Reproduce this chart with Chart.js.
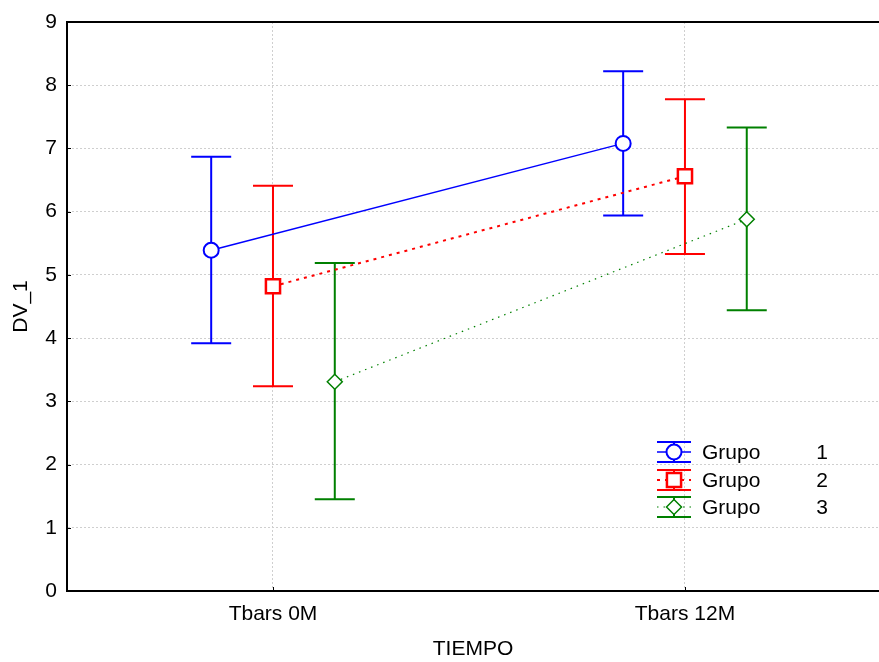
<!DOCTYPE html>
<html lang="es">
<head>
    <meta charset="UTF-8">
    <title>DV_1 por TIEMPO</title>
    <script src="https://cdn.jsdelivr.net/npm/chart.js"></script>
    <style>
        html, body { margin: 0; padding: 0; background: #fff; overflow: hidden; }
        .chart-box { width: 879px; height: 662px; }
    </style>
</head>
<body>
    <div class="chart-box">
        <canvas id="chart1"></canvas>
    </div>

    <script>
        // Data
        const categories = ["Tbars 0M", "Tbars 12M"];
        const groupNames = ["1", "2", "3"];
        const yTicks = [0, 1, 2, 3, 4, 5, 6, 7, 8, 9];

        const grupo1Mean = [5.39, 7.08];
        const grupo1Low = [3.92, 5.94];
        const grupo1High = [6.87, 8.22];

        const grupo2Mean = [4.82, 6.56];
        const grupo2Low = [3.24, 5.33];
        const grupo2High = [6.41, 7.78];

        const grupo3Mean = [3.31, 5.88];
        const grupo3Low = [1.45, 4.44];
        const grupo3High = [5.19, 7.33];

        const groupOffsets = [-0.15, 0, 0.15];

        const colors = ["rgb(0,0,255)", "rgb(255,0,0)", "rgb(0,128,0)"];
        const fontFamily = "'Liberation Sans', Arial, sans-serif";
        const fontSize = 21;

        const groupData = [
            { mean: grupo1Mean, low: grupo1Low, high: grupo1High },
            { mean: grupo2Mean, low: grupo2Low, high: grupo2High },
            { mean: grupo3Mean, low: grupo3Low, high: grupo3High }
        ];

        const pointStyles = ["circle", "rect", "rectRot"];
        const pointRadius = [7.5, 10, 7.5];
        const pointBorder = [2, 2.5, 1.5];
        const lineWidths = [1.5, 2, 1.2];
        const lineDashes = [[], [3, 5], [1.5, 5]];

        const datasets = groupData.map((g, i) => ({
            label: "Grupo " + groupNames[i],
            data: g.mean.map((m, c) => ({ x: c + groupOffsets[i], y: m })),
            borderColor: colors[i],
            backgroundColor: "#fff",
            borderWidth: lineWidths[i],
            borderDash: lineDashes[i],
            pointStyle: pointStyles[i],
            pointRadius: pointRadius[i],
            pointBorderWidth: pointBorder[i],
            pointBorderColor: colors[i],
            pointBackgroundColor: "#fff",
            tension: 0
        }));

        // error bars, frame, inward ticks and the legend box
        const extrasPlugin = {
            id: "extras",
            beforeDatasetsDraw(chart) {
                const ctx = chart.ctx;
                const xs = chart.scales.x, ys = chart.scales.y;
                const capHalf = 20;
                ctx.save();
                ctx.setLineDash([]);
                groupData.forEach((g, i) => {
                    ctx.strokeStyle = colors[i];
                    ctx.lineWidth = 2;
                    g.mean.forEach((m, c) => {
                        const px = xs.getPixelForValue(c + groupOffsets[i]);
                        const top = ys.getPixelForValue(g.high[c]);
                        const bot = ys.getPixelForValue(g.low[c]);
                        ctx.beginPath();
                        ctx.moveTo(px, top); ctx.lineTo(px, bot);
                        ctx.moveTo(px - capHalf, top); ctx.lineTo(px + capHalf, top);
                        ctx.moveTo(px - capHalf, bot); ctx.lineTo(px + capHalf, bot);
                        ctx.stroke();
                    });
                });
                ctx.restore();
            },
            afterDraw(chart) {
                const ctx = chart.ctx;
                const a = chart.chartArea;
                const xs = chart.scales.x, ys = chart.scales.y;
                ctx.save();
                ctx.strokeStyle = "#000";
                ctx.lineWidth = 2;
                ctx.beginPath();
                ctx.moveTo(a.left - 1, a.top); ctx.lineTo(a.right, a.top);
                ctx.stroke();
                ctx.lineWidth = 1;
                ctx.beginPath();
                yTicks.forEach(v => {
                    const py = Math.round(ys.getPixelForValue(v)) + 0.5;
                    ctx.moveTo(a.left, py); ctx.lineTo(a.left + 4, py);
                });
                categories.forEach((c, i) => {
                    const px = Math.round(xs.getPixelForValue(i)) + 0.5;
                    ctx.moveTo(px, a.bottom); ctx.lineTo(px, a.bottom - 4);
                });
                ctx.stroke();

                // legend
                const lx0 = 657, lx1 = 691, lcx = 674;
                const rows = [452, 480, 507];
                ctx.font = fontSize + "px " + fontFamily;
                ctx.textBaseline = "middle";
                rows.forEach((ry, i) => {
                    const ds = chart.data.datasets[i];
                    ctx.strokeStyle = colors[i];
                    ctx.setLineDash([]);
                    ctx.lineWidth = 2;
                    ctx.beginPath();
                    ctx.moveTo(lx0, ry - 10); ctx.lineTo(lx1, ry - 10);
                    ctx.moveTo(lx0, ry + 10); ctx.lineTo(lx1, ry + 10);
                    ctx.moveTo(lcx, ry - 10); ctx.lineTo(lcx, ry + 10);
                    ctx.stroke();
                    ctx.lineWidth = lineWidths[i];
                    ctx.setLineDash(lineDashes[i]);
                    ctx.beginPath();
                    ctx.moveTo(lx0, ry); ctx.lineTo(lx1, ry);
                    ctx.stroke();
                    ctx.setLineDash([]);
                    ctx.fillStyle = "#fff";
                    ctx.strokeStyle = colors[i];
                    ctx.lineWidth = pointBorder[i];
                    Chart.helpers.drawPoint(ctx, {
                        pointStyle: ds.pointStyle,
                        radius: pointRadius[i],
                        borderWidth: pointBorder[i],
                        rotation: 0
                    }, lcx, ry);
                    ctx.fillStyle = "#000";
                    ctx.textAlign = "left";
                    ctx.fillText("Grupo", 702, ry + 1);
                    ctx.textAlign = "right";
                    ctx.fillText(groupNames[i], 828, ry + 1);
                });
                ctx.restore();
            }
        };

        const ctx = document.getElementById("chart1").getContext("2d");
        new Chart(ctx, {
            type: "line",
            data: { datasets: datasets },
            options: {
                responsive: true,
                maintainAspectRatio: false,
                animation: false,
                layout: {
                    autoPadding: false,
                    padding: { top: 22, right: 0, bottom: 0, left: 0 }
                },
                plugins: {
                    legend: { display: false },
                    tooltip: { enabled: false }
                },
                scales: {
                    x: {
                        type: "linear",
                        min: -0.5,
                        max: 1.471,
                        afterBuildTicks: (scale) => {
                            scale.ticks = categories.map((c, i) => ({ value: i }));
                        },
                        afterFit: (scale) => {
                            scale.height = 71;
                            scale.paddingLeft = 0;
                            scale.paddingRight = 0;
                        },
                        ticks: {
                            callback: (value, index) => categories[index],
                            color: "#000",
                            font: { family: fontFamily, size: fontSize },
                            padding: 11,
                            maxRotation: 0
                        },
                        grid: {
                            color: "#cfcfcf",
                            lineWidth: 1,
                            drawTicks: false
                        },
                        border: { display: true, color: "#000", width: 2, dash: [2, 2] },
                        title: {
                            display: true,
                            text: "TIEMPO",
                            color: "#000",
                            font: { family: fontFamily, size: fontSize },
                            padding: { top: 0, bottom: 0 }
                        }
                    },
                    y: {
                        min: 0,
                        max: 9,
                        afterBuildTicks: (scale) => {
                            scale.ticks = yTicks.map(v => ({ value: v }));
                        },
                        afterFit: (scale) => {
                            scale.width = 67;
                            scale.paddingTop = 0;
                            scale.paddingBottom = 0;
                        },
                        ticks: {
                            color: "#000",
                            font: { family: fontFamily, size: fontSize },
                            padding: 10
                        },
                        grid: {
                            color: "#cfcfcf",
                            lineWidth: 1,
                            drawTicks: false
                        },
                        border: { display: true, color: "#000", width: 2, dash: [2, 2] },
                        title: {
                            display: true,
                            text: "DV_1",
                            color: "#000",
                            font: { family: fontFamily, size: fontSize },
                            padding: { top: 9, bottom: 0 }
                        }
                    }
                }
            },
            plugins: [extrasPlugin]
        });
    </script>
</body>
</html>
